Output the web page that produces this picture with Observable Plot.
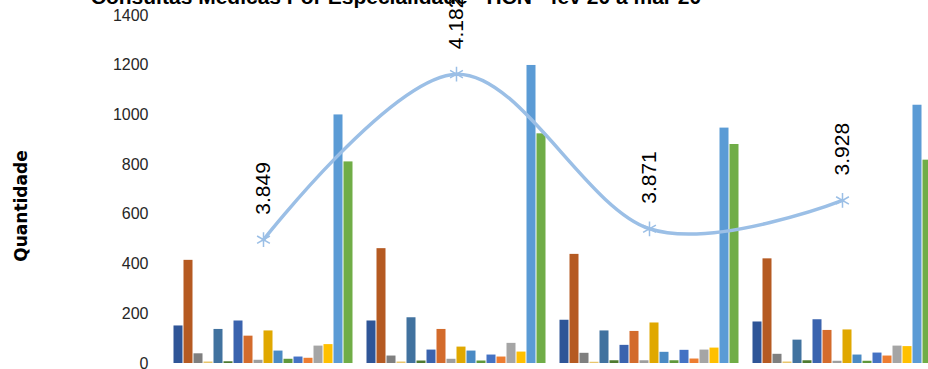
<!DOCTYPE html>
<html>
<head>
<meta charset="utf-8">
<script src="https://cdn.jsdelivr.net/npm/d3@7"></script>
<script src="https://cdn.jsdelivr.net/npm/@observablehq/plot@0.6"></script>
<style>
  html, body { margin: 0; padding: 0; background: #fff; }
  #wrap { position: relative; width: 928px; height: 369px; overflow: hidden; }
  #title { position: absolute; left: 0; top: -14px; width: 792px; text-align: center;
           font: bold 21px "Liberation Sans", sans-serif; line-height: 21px; color: #000; z-index: 2; white-space: nowrap; }
  #ylabel { position: absolute; left: 21px; top: 206px; transform: translate(-50%, -50%) rotate(-90deg);
            font: bold 17px "DejaVu Sans", sans-serif; color: #000; white-space: nowrap; z-index: 2; }
  #chart { position: absolute; left: 0; top: 0; }
</style>
</head>
<body>
<div id="wrap">
  <div id="title">Consultas Médicas Por Especialidade - HCN - fev 20 a mar 20</div>
  <div id="ylabel">Quantidade</div>
  <div id="chart"></div>
</div>
<script>
// ---- data ----
const groups = ["Período 1", "Período 2", "Período 3", "Período 4"];
const series = ["Esp 01","Esp 02","Esp 03","Esp 04","Esp 05","Esp 06","Esp 07","Esp 08","Esp 09",
                "Esp 10","Esp 11","Esp 12","Esp 13","Esp 14","Esp 15","Esp 16","Esp 17","Esp 18"];
const group1 = [151, 415, 39, 6, 137, 7, 171, 110, 13, 131, 50, 17, 26, 21, 70, 76, 1000, 811];
const group2 = [171, 462, 30, 6, 184, 10, 54, 137, 17, 66, 50, 10, 34, 26, 81, 46, 1199, 924];
const group3 = [174, 439, 41, 5, 131, 11, 73, 129, 11, 163, 45, 11, 53, 18, 54, 62, 947, 881];
const group4 = [167, 421, 37, 6, 94, 11, 176, 133, 9, 135, 34, 9, 42, 30, 70, 68, 1039, 818];
const totals = [3849, 4182, 3871, 3928];
const yTicks = [0, 200, 400, 600, 800, 1000, 1200, 1400];
const seriesColors = ["#2F5597","#B55A22","#7F7F7F","#E9C66C","#41729F","#4E7A30",
                      "#3A63AE","#D36B2C","#9E9E9E","#E0A800","#4A8AC4","#5F983B",
                      "#4472C4","#ED7D31","#A5A5A5","#FFC000","#5B9BD5","#70AD47"];

// ---- build tables ----
const allValues = [group1, group2, group3, group4];
const bars = [];
allValues.forEach((vals, g) => vals.forEach((v, s) => bars.push({g, group: groups[g], series: series[s], value: v})));
const inner = d3.scaleBand(series, [-90 / 193, 90 / 193]);
const secondary = d3.scaleLinear([3600, 4300], [0, 1400]); // hidden secondary axis
const lineData = totals.map((t, g) => ({g, total: t}));
const ptBR = d3.formatLocale({decimal: ",", thousands: ".", grouping: [3], currency: ["R$", ""]});
const fmt = ptBR.format(",d");

const lineColor = "#9BBFE6";

const chart = Plot.plot({
  width: 928,
  height: 369,
  marginLeft: 160,
  marginRight: 0,
  marginTop: 15,
  marginBottom: 6,
  style: {fontFamily: "Liberation Sans, sans-serif", fontSize: "16px", color: "#262626", background: "transparent", overflow: "visible"},
  x: {domain: [-0.5, 3.5], range: [166.5, 938.5], axis: null},
  y: {domain: [0, 1400], ticks: yTicks, tickSize: 0, tickPadding: 12, label: null, tickFormat: d3.format("d")},
  color: {domain: series, range: seriesColors},
  marks: [
    Plot.rectY(bars, {
      x1: d => d.g + inner(d.series),
      x2: d => d.g + inner(d.series) + inner.bandwidth(),
      y1: 0, y2: "value", fill: "series",
      insetLeft: 0.5, insetRight: 0.5
    }),
    Plot.line(lineData, {x: "g", y: d => secondary(d.total), curve: "cardinal", stroke: lineColor, strokeWidth: 3.5}),
    Plot.dot(lineData, {x: "g", y: d => secondary(d.total), symbol: "asterisk", r: 7, stroke: lineColor, strokeWidth: 1.5}),
    Plot.text(lineData, {x: "g", y: d => secondary(d.total), text: d => fmt(d.total), rotate: -90,
      textAnchor: "start", dy: -25, fontSize: 21, fill: "#000"})
  ]
});
document.getElementById("chart").appendChild(chart);
</script>
</body>
</html>
